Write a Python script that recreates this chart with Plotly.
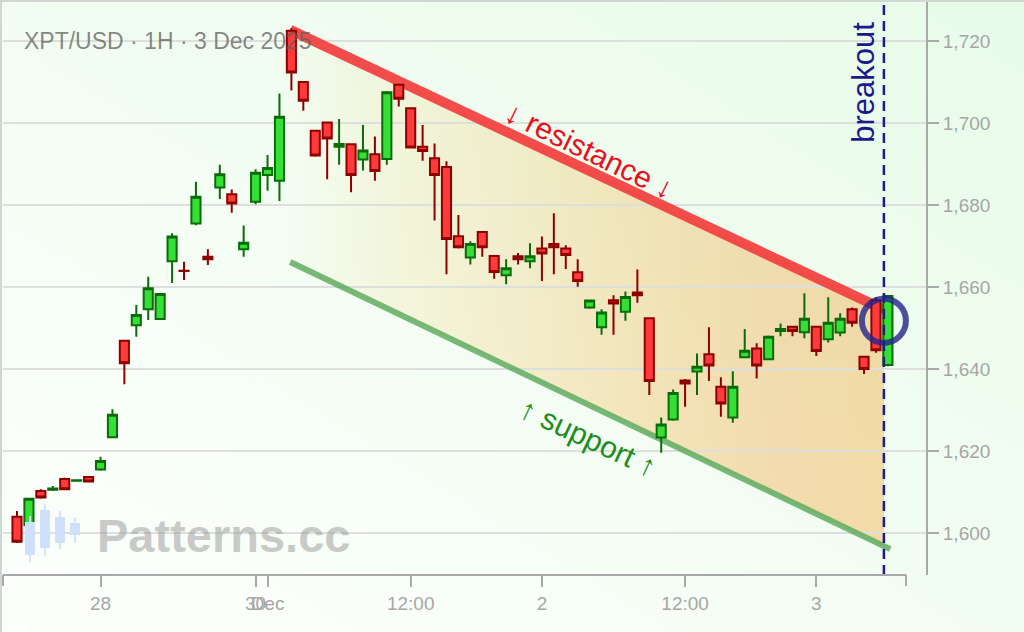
import base64
import numpy as np
import pandas as pd
import plotly.graph_objects as go

# Bougies horaires XPT/USD (UTC) - week-end et pause quotidienne retirés
bar_times = pd.DatetimeIndex(
    list(pd.date_range('2025-11-27 17:00', '2025-11-28 12:00', freq='h'))
    + list(pd.date_range('2025-11-30 23:00', '2025-12-01 21:00', freq='h'))
    + list(pd.date_range('2025-12-01 23:00', '2025-12-02 21:00', freq='h'))
    + list(pd.date_range('2025-12-02 23:00', '2025-12-03 06:00', freq='h'))
)

opens = [1604.0, 1601.9, 1610.3, 1610.6, 1613.2, 1612.8, 1613.7, 1615.5, 1623.4, 1646.9,
         1650.7, 1654.6, 1652.2, 1666.3, 1664.0, 1675.5, 1667.4, 1684.3, 1682.6, 1669.2,
         1680.8, 1687.3, 1685.9, 1722.5, 1710.0, 1698.1, 1700.1, 1694.2, 1694.8, 1691.1,
         1692.4, 1691.2, 1709.3, 1703.6, 1694.2, 1691.4, 1689.3, 1672.4, 1667.2, 1673.4,
         1667.6, 1662.9, 1667.5, 1666.3, 1669.4, 1670.5, 1669.4, 1663.6, 1655.0, 1650.2,
         1656.8, 1654.0, 1658.7, 1652.4, 1623.3, 1627.7, 1637.2, 1639.4, 1643.6, 1635.7,
         1628.2, 1642.9, 1645.0, 1642.4, 1649.3, 1650.3, 1649.0, 1650.3, 1647.3, 1648.9,
         1654.6, 1643.0, 1656.8, 1641.0]
highs = [1605.4, 1608.6, 1610.7, 1611.5, 1613.5, 1613.0, 1613.8, 1618.6, 1630.2, 1647.0,
         1655.6, 1662.5, 1658.5, 1673.1, 1666.2, 1685.7, 1669.2, 1689.8, 1683.8, 1675.0,
         1688.7, 1692.2, 1707.2, 1723.1, 1710.2, 1698.3, 1700.2, 1701.0, 1695.0, 1699.5,
         1696.7, 1707.8, 1709.5, 1703.8, 1699.5, 1695.0, 1690.7, 1677.6, 1671.2, 1673.6,
         1667.8, 1666.8, 1668.3, 1670.7, 1672.3, 1678.0, 1670.2, 1666.8, 1656.8, 1654.6,
         1658.0, 1658.9, 1664.3, 1652.6, 1628.2, 1635.0, 1637.6, 1643.8, 1650.2, 1638.0,
         1639.5, 1649.8, 1646.3, 1648.2, 1651.1, 1650.4, 1658.5, 1650.4, 1657.5, 1653.6,
         1655.0, 1643.2, 1657.6, 1658.0]
lows = [1597.6, 1601.5, 1608.4, 1610.3, 1610.6, 1612.7, 1612.5, 1615.2, 1623.3, 1636.3,
        1647.9, 1652.0, 1652.0, 1661.0, 1661.7, 1675.1, 1665.4, 1681.5, 1678.1, 1667.4,
        1680.2, 1683.5, 1681.0, 1707.9, 1703.0, 1691.8, 1686.3, 1689.8, 1683.1, 1688.4,
        1685.9, 1689.8, 1704.0, 1693.8, 1690.8, 1676.2, 1663.1, 1669.4, 1665.5, 1667.4,
        1662.0, 1660.7, 1665.5, 1664.6, 1661.5, 1663.1, 1664.4, 1660.1, 1654.7, 1648.4,
        1648.4, 1651.8, 1656.2, 1633.7, 1619.6, 1627.4, 1630.8, 1633.7, 1637.1, 1628.4,
        1626.9, 1642.9, 1637.7, 1642.2, 1648.0, 1648.0, 1647.5, 1643.2, 1646.5, 1648.0,
        1650.3, 1638.8, 1644.0, 1640.7]
closes = [1597.9, 1608.4, 1608.7, 1610.9, 1610.7, 1612.9, 1612.6, 1617.6, 1628.9, 1641.4,
          1653.2, 1659.7, 1658.3, 1672.3, 1663.9, 1682.0, 1666.8, 1687.5, 1680.4, 1670.8,
          1687.9, 1689.0, 1701.5, 1712.3, 1705.4, 1692.1, 1696.2, 1694.9, 1687.3, 1693.3,
          1688.3, 1707.5, 1705.9, 1694.0, 1693.2, 1687.3, 1671.7, 1669.7, 1670.5, 1669.7,
          1663.7, 1664.6, 1666.8, 1667.5, 1668.2, 1669.7, 1667.8, 1661.5, 1656.7, 1653.8,
          1656.0, 1657.6, 1658.0, 1637.1, 1626.5, 1634.2, 1636.5, 1640.6, 1640.9, 1631.6,
          1635.7, 1644.5, 1640.9, 1647.9, 1649.8, 1649.3, 1652.3, 1644.4, 1651.3, 1652.3,
          1651.3, 1640.0, 1644.6, 1657.8]

tick_times = ['2025-11-28 00:00', '2025-11-30 00:00', '2025-12-01 00:00', '2025-12-01 12:00',
              '2025-12-02 00:00', '2025-12-02 12:00', '2025-12-03 00:00']
tick_text = ['28', '30', 'Dec', '12:00', '2', '12:00', '3']
price_ticks = [1600, 1620, 1640, 1660, 1680, 1700, 1720]

# Canal baissier (position en bougies, prix)
resistance_x = [22.9, 72.67]
resistance_y = [1722.7, 1654.5]
support_x = [22.9, 73.2]
support_y = [1666.1, 1596.1]
breakout_time = '2025-12-03 05:40'
breakout_price = 1651.8

# Positions sur l'axe : une bougie = une unité (les trous de marché sont retirés)
pos = np.arange(len(bar_times))
tick_pos = np.searchsorted(bar_times.values, pd.to_datetime(tick_times, format='%Y-%m-%d %H:%M').values)
bt = pd.Timestamp(breakout_time)
breakout_pos = bar_times.get_indexer([bt.floor('h')])[0] + bt.minute / 60

# Zone de tracé en pixels
L, R, T, B = 3, 926, 2, 575
bar_px = 11.93
x_lo = (L - 17) / bar_px
x_hi = x_lo + (R - L) / bar_px

def px_x(px):
    return (px - L) / (R - L)

def px_y(py):
    return (B - py) / (B - T)

font = 'Liberation Sans, Arial, sans-serif'

fig = go.Figure(go.Candlestick(
    x=pos, open=opens, high=highs, low=lows, close=closes,
    increasing=dict(fillcolor='#33e033', line=dict(color='#0b6b0b', width=2)),
    decreasing=dict(fillcolor='#ff3a3a', line=dict(color='#8e0000', width=2)),
    whiskerwidth=0, showlegend=False,
    hovertext=[t.strftime('%d %b %H:%M') for t in bar_times]))

shapes = []

# Remplissage du canal en dégradé (tranches superposées)
def res_at(x):
    return np.interp(x, resistance_x, resistance_y)

def sup_at(x):
    return np.interp(x, support_x, support_y)

x0 = resistance_x[0]
n_slices = 40
for k in range(n_slices):
    xs = x0 + (breakout_pos - x0) * k / n_slices
    path = 'M {a},{b} L {c},{d} L {c},{e} L {a},{f} Z'.format(
        a=xs, b=res_at(xs), c=breakout_pos, d=res_at(breakout_pos),
        e=sup_at(breakout_pos), f=sup_at(xs))
    shapes.append(dict(type='path', path=path, xref='x', yref='y',
                       fillcolor='rgba(245,205,130,0.028)', line=dict(width=0),
                       layer='below'))

# Lignes de résistance et de support
shapes.append(dict(type='line', xref='x', yref='y',
                   x0=resistance_x[0], y0=resistance_y[0], x1=resistance_x[1], y1=resistance_y[1],
                   line=dict(color='rgba(242,62,62,0.93)', width=10), layer='between'))
shapes.append(dict(type='line', xref='x', yref='y',
                   x0=support_x[0], y0=support_y[0], x1=support_x[1], y1=support_y[1],
                   line=dict(color='rgba(95,172,95,0.85)', width=6), layer='between'))

# Cassure : ligne verticale pointillée et cercle
shapes.append(dict(type='line', xref='x', yref='paper', x0=breakout_pos, x1=breakout_pos,
                   y0=0, y1=1, line=dict(color='#1c1c8f', width=2.5, dash='10px,6px'),
                   layer='above'))
shapes.append(dict(type='circle', xref='x', yref='y', xsizemode='pixel', ysizemode='pixel',
                   xanchor=breakout_pos, yanchor=breakout_price, x0=-22, x1=22, y0=-22, y1=22,
                   line=dict(color='rgba(35,35,140,0.8)', width=6), layer='above'))

# Axe des x (ligne + petites graduations aux extrémités)
shapes.append(dict(type='line', xref='paper', yref='paper', x0=px_x(3), x1=px_x(906),
                   y0=0, y1=0, line=dict(color='#a9a9a9', width=2)))
for ex in (3, 906):
    shapes.append(dict(type='line', xref='paper', yref='paper', x0=px_x(ex), x1=px_x(ex),
                       y0=0, y1=px_y(586), line=dict(color='#a9a9a9', width=2)))

# Bordure gauche / haut de l'image
shapes.append(dict(type='line', xref='paper', yref='paper', x0=px_x(1), x1=px_x(1),
                   y0=px_y(0), y1=px_y(632), line=dict(color='#d2d6d2', width=2)))
shapes.append(dict(type='line', xref='paper', yref='paper', x0=px_x(0), x1=px_x(1024),
                   y0=px_y(1), y1=px_y(1), line=dict(color='#d2d6d2', width=2)))

# Petit logo (bougies bleu clair) à côté du filigrane
for j, (top, bot, wt, wb) in enumerate([(522, 555, 516, 562), (510, 548, 504, 556),
                                        (517, 543, 511, 549), (523, 535, 517, 543)]):
    cx = 30 + 15 * j
    shapes.append(dict(type='line', xref='paper', yref='paper', x0=px_x(cx), x1=px_x(cx),
                       y0=px_y(wb), y1=px_y(wt), line=dict(color='#d3e4fa', width=2)))
    shapes.append(dict(type='rect', xref='paper', yref='paper', x0=px_x(cx - 5), x1=px_x(cx + 5),
                       y0=px_y(bot), y1=px_y(top), fillcolor='#cfe1fa', line=dict(width=0)))

annotations = [
    dict(xref='paper', yref='paper', x=px_x(22), y=px_y(41), xanchor='left', yanchor='middle',
         text='XPT/USD · 1H · 3 Dec 2025', showarrow=False,
         font=dict(family=font, size=23, color='rgba(95,95,95,0.75)')),
    dict(xref='paper', yref='paper', x=px_x(95), y=px_y(535), xanchor='left', yanchor='middle',
         text='<b>Patterns.cc</b>', showarrow=False,
         font=dict(family=font, size=47, color='rgba(150,150,150,0.5)')),
    dict(xref='x', yref='y', x=48.0, y=1693.4, text='↓ resistance ↓', showarrow=False,
         textangle=26, font=dict(family=font, size=30, color='#e8101c')),
    dict(xref='x', yref='y', x=47.9, y=1623.4, text='↑ support ↑', showarrow=False,
         textangle=25, font=dict(family=font, size=30, color='#1f8c1f')),
    dict(xref='x', yref='y', x=71.0, y=1709.8, text='breakout', showarrow=False,
         textangle=-90, font=dict(family=font, size=31, color='#1a1a8c')),
]

# Fond en dégradé vert très clair
svg = ('<svg xmlns="http://www.w3.org/2000/svg" width="1024" height="632">'
       '<defs><linearGradient id="g" x1="0" y1="1" x2="1" y2="0">'
       '<stop offset="0" stop-color="#fdfffd"/><stop offset="1" stop-color="#e8fbe8"/>'
       '</linearGradient></defs><rect width="1024" height="632" fill="url(#g)"/></svg>')
bg_src = 'data:image/svg+xml;base64,' + base64.b64encode(svg.encode()).decode()

fig.update_layout(
    width=1024, height=632, autosize=False,
    margin=dict(l=L, r=1024 - R, t=T, b=632 - B),
    paper_bgcolor='#f4fdf4', plot_bgcolor='rgba(0,0,0,0)',
    font=dict(family=font),
    boxgap=0.15, boxgroupgap=0.1,
    shapes=shapes, annotations=annotations,
    images=[dict(source=bg_src, xref='paper', yref='paper', x=px_x(0), y=px_y(0),
                 sizex=1024 / (R - L), sizey=632 / (B - T), sizing='stretch',
                 xanchor='left', yanchor='top', layer='below')],
    xaxis=dict(range=[x_lo, x_hi], tickvals=tick_pos, ticktext=tick_text, tickangle=0,
               ticks='outside', ticklen=11, tickwidth=2, tickcolor='#a9a9a9',
               showgrid=False, showline=False, zeroline=False,
               rangeslider=dict(visible=False),
               tickfont=dict(family=font, size=19, color='#a6a6a6')),
    yaxis=dict(range=[1589.8, 1729.5], side='right', tickvals=price_ticks, tickformat=',d',
               ticks='outside', ticklen=11, tickwidth=2, tickcolor='#a9a9a9',
               showline=True, linecolor='#a9a9a9', linewidth=2,
               showgrid=True, gridcolor='#dcdfdc', gridwidth=2, zeroline=False,
               tickfont=dict(family=font, size=19, color='#a6a6a6')),
)

# marge du <body> à zéro pour que la figure remplisse exactement la fenêtre
fig.write_html('out.html', config={'displayModeBar': False},
               post_script="document.body.style.margin='0';")
